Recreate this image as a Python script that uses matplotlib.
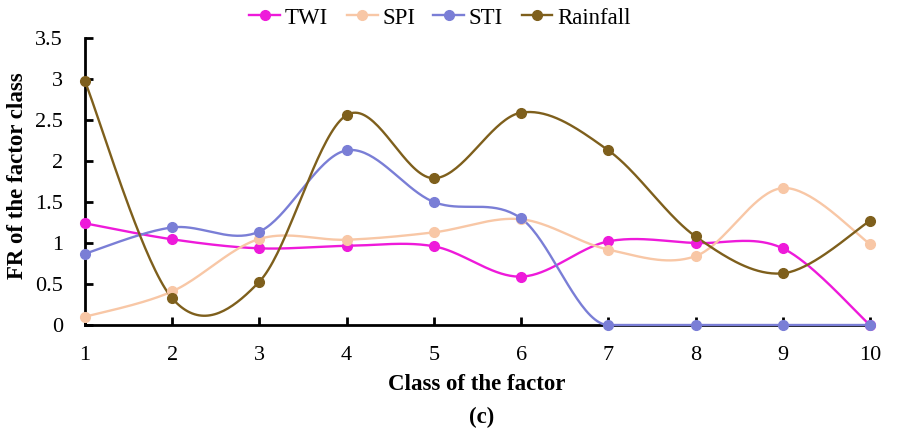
import numpy as np
import matplotlib.pyplot as plt

classes = [1, 2, 3, 4, 5, 6, 7, 8, 9, 10]
twi = [1.24, 1.045, 0.935, 0.965, 0.96, 0.59, 1.02, 1.0, 0.935, 0.0]
spi = [0.10, 0.41, 1.05, 1.04, 1.13, 1.29, 0.92, 0.84, 1.67, 0.99]
sti = [0.87, 1.19, 1.14, 2.13, 1.50, 1.30, 0.0, 0.0, 0.0, 0.0]
rainfall = [2.97, 0.325, 0.53, 2.56, 1.79, 2.59, 2.13, 1.08, 0.63, 1.27]

series = [("TWI", twi, "#EE1ADA"),
          ("SPI", spi, "#F8C7A6"),
          ("STI", sti, "#7A7ED6"),
          ("Rainfall", rainfall, "#7E5F1C")]


def smooth(x, y, n=40):
    # Excel-like smoothed line (Catmull-Rom as cubic Bezier)
    p = np.column_stack([x, y]).astype(float)
    ext = np.vstack([p[0], p, p[-1]])
    tang = (ext[2:] - ext[:-2]) / 6
    # flat runs stay flat (no overshoot)
    for i in range(len(p)):
        if (i > 0 and p[i, 1] == p[i - 1, 1]) or (i < len(p) - 1 and p[i, 1] == p[i + 1, 1]):
            tang[i, 1] = 0
    out = []
    t = np.linspace(0, 1, n)[:, None]
    for i in range(len(p) - 1):
        p0, p3 = p[i], p[i + 1]
        c1 = p0 + tang[i]
        c2 = p3 - tang[i + 1]
        seg = ((1 - t) ** 3) * p0 + 3 * ((1 - t) ** 2) * t * c1 + 3 * (1 - t) * t ** 2 * c2 + t ** 3 * p3
        out.append(seg)
    out = np.vstack(out)
    return out[:, 0], out[:, 1]


plt.rcParams['font.family'] = ['Liberation Serif', 'DejaVu Serif']

fig = plt.figure(figsize=(9.21, 4.33), dpi=100)
ax = fig.add_axes([0.0923, 0.2494, 0.8523, 0.6628])

for name, vals, col in series:
    sx, sy = smooth(classes, vals)
    ax.plot(sx, sy, color=col, lw=1.7, clip_on=False, zorder=3)
    ax.plot(classes, vals, 'o', color=col, ms=7, clip_on=False, zorder=4)
    ax.plot([], [], '-o', color=col, lw=1.7, ms=7, label=name)

ax.set_xlim(1, 10)
ax.set_ylim(0, 3.5)
ax.set_xticks(classes)
ax.set_yticks(np.arange(0, 3.51, 0.5))
ax.set_yticklabels(["0", "0.5", "1", "1.5", "2", "2.5", "3", "3.5"])
ax.tick_params(direction='in', length=6, width=2, labelsize=16)
ax.tick_params(axis='x', pad=15)
ax.tick_params(axis='y', pad=16)
for s in ['top', 'right']:
    ax.spines[s].set_visible(False)
for s in ['left', 'bottom']:
    ax.spines[s].set_linewidth(2)

fig.text(477 / 921, 1 - 385 / 433, "Class of the factor", fontsize=16.5, fontweight='bold',
         ha='center', va='center')
fig.text(18 / 921, 1 - 176 / 433, "FR of the factor class", fontsize=16.5, fontweight='bold',
         ha='center', va='center', rotation=90)
fig.text(482 / 921, 1 - 417 / 433, "(c)", fontsize=16.5, fontweight='bold', ha='center', va='center')

ax.legend(loc='center', bbox_to_anchor=(440 / 921, 1 - 18 / 433), bbox_transform=fig.transFigure,
          ncol=4, frameon=False, fontsize=16.5, handlelength=1.35, handletextpad=0.2,
          columnspacing=0.8, borderpad=0, borderaxespad=0)

fig.savefig("out.png", dpi=100)
